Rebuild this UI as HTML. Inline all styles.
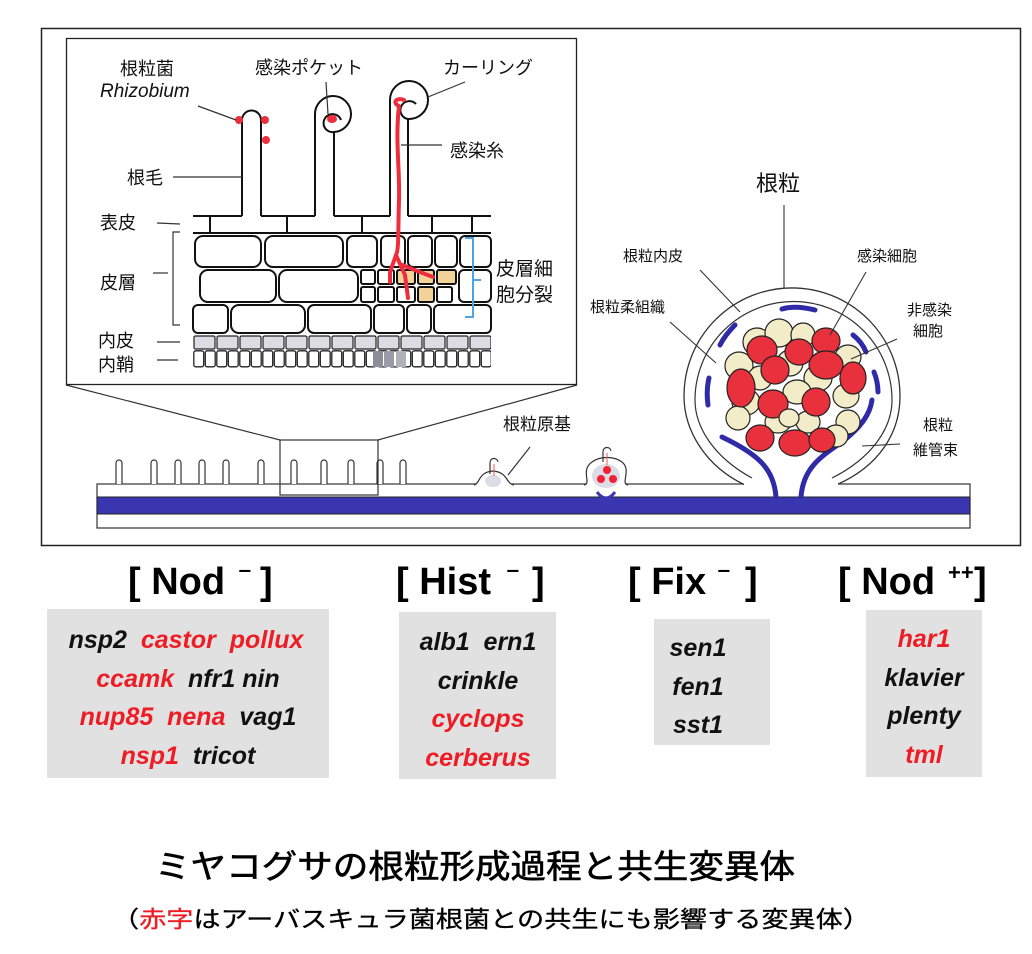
<!DOCTYPE html>
<html><head><meta charset="utf-8"><style>
html,body{margin:0;padding:0;background:#fff;}
svg{display:block;}
.jp{font-family:"Liberation Sans","Noto Sans CJK JP",sans-serif;}
.g{font-family:"Liberation Sans",sans-serif;font-weight:bold;font-style:italic;font-size:25px;text-anchor:middle;}
.r{fill:#ee1c24;}
</style></head><body>
<svg width="1032" height="954" viewBox="0 0 1032 954" xmlns="http://www.w3.org/2000/svg">
<defs>
<pattern id="peri" x="193" y="350" width="11.5" height="18" patternUnits="userSpaceOnUse">
<rect x="0.8" y="0.8" width="9.9" height="16" rx="2" fill="#fff" stroke="#222" stroke-width="1.3"/>
</pattern>
<pattern id="endo" x="193" y="335" width="23" height="15" patternUnits="userSpaceOnUse">
<rect x="1" y="1" width="21" height="13" rx="1.5" fill="#dcdce2" stroke="#222" stroke-width="1.2"/>
</pattern>
</defs>
<rect width="1032" height="954" fill="#fff"/>
<rect x="41.5" y="28.5" width="979" height="517" fill="#fff" stroke="#222" stroke-width="1.5"/>

<rect x="97" y="484" width="873" height="44" fill="#fff" stroke="#333" stroke-width="1.2"/>
<rect x="97" y="497" width="873" height="17" fill="#3a36b0" stroke="#222" stroke-width="1"/>
<g fill="#fff" stroke="#333" stroke-width="1.2">
<path d="M116,484 V463 a3,3 0 0 1 6,0 V484"/>
<path d="M151,484 V463 a3,3 0 0 1 6,0 V484"/>
<path d="M175,484 V463 a3,3 0 0 1 6,0 V484"/>
<path d="M199,484 V463 a3,3 0 0 1 6,0 V484"/>
<path d="M223,484 V463 a3,3 0 0 1 6,0 V484"/>
<path d="M258,484 V463 a3,3 0 0 1 6,0 V484"/>
<path d="M291,484 V463 a3,3 0 0 1 6,0 V484"/>
<path d="M321,484 V463 a3,3 0 0 1 6,0 V484"/>
<path d="M348,484 V463 a3,3 0 0 1 6,0 V484"/>
<path d="M377,484 V463 a3,3 0 0 1 6,0 V484"/>
<path d="M400,484 V463 a3,3 0 0 1 6,0 V484"/>
</g>
<rect x="280" y="440" width="98" height="55" fill="none" stroke="#333" stroke-width="1.2"/>
<line x1="66" y1="385" x2="280" y2="440" stroke="#333" stroke-width="1.2"/>
<line x1="577" y1="385" x2="378" y2="440" stroke="#333" stroke-width="1.2"/>

<path d="M474,485 C480,484 478,472 493,471 C508,472 506,484 514,485" fill="#fff" stroke="#333" stroke-width="1.2"/>
<ellipse cx="493" cy="481" rx="8" ry="6" fill="#dcdce6"/>
<path d="M490,474 V463 a4,4 0 0 1 8,-1" fill="none" stroke="#333" stroke-width="1.2"/>
<line x1="494" y1="476" x2="494" y2="464" stroke="#ee5555" stroke-width="1"/>
<line x1="508" y1="475" x2="530" y2="447" stroke="#333" stroke-width="1.2"/>
<path d="M584,485 C592,484 580,470 592,462 C600,456 614,456 622,462 C632,470 620,484 628,485" fill="#fff" stroke="#333" stroke-width="1.2"/>
<ellipse cx="606" cy="476" rx="14" ry="12" fill="#dcdce6"/>
<path d="M603,462 V452 a4,4 0 0 1 8,-1" fill="none" stroke="#333" stroke-width="1.2"/>
<line x1="607" y1="465" x2="607" y2="453" stroke="#ee5555" stroke-width="1"/>
<circle cx="607" cy="470" r="4" fill="#ee2233"/><circle cx="601" cy="479" r="4" fill="#ee2233"/><circle cx="613" cy="479" r="4" fill="#ee2233"/>
<path d="M597,492 Q606,504 615,492" fill="none" stroke="#3a36b0" stroke-width="3"/>

<path d="M745,485 C705,466 684,430 684,396 A108,108 0 1 1 900,396 C900,432 880,466 836,485" fill="#fff" stroke="#333" stroke-width="1.3"/>
<path d="M752,478 C715,458 695,428 695,400 A97,97 0 1 1 892,400 C892,428 872,458 832,478" fill="none" stroke="#333" stroke-width="1.2"/>
<rect x="744" y="483" width="94" height="3" fill="#fff"/>
<g fill="none" stroke="#2e2aa8" stroke-width="5" stroke-linecap="round">
<path d="M776,497 C774,470 760,455 722,437"/>
<path d="M801,497 C803,470 818,458 842,442 C860,428 870,415 872,400"/>
<path d="M782,309 Q795,305 815,310"/>
<path d="M735,325 Q725,335 720,345"/>
<path d="M709,378 Q706,390 708,405"/>
<path d="M853,335 Q862,342 866,352"/>
<path d="M874,372 Q878,382 878,392"/>
</g>
<g stroke="#222" stroke-width="1.2">
<ellipse cx="757" cy="342" rx="14" ry="14" fill="#f3ecc8"/>
<ellipse cx="779" cy="333" rx="14" ry="14" fill="#f3ecc8"/>
<ellipse cx="803" cy="335" rx="12" ry="12" fill="#f3ecc8"/>
<ellipse cx="739" cy="366" rx="14" ry="14" fill="#f3ecc8"/>
<ellipse cx="848" cy="357" rx="13" ry="12" fill="#f3ecc8"/>
<ellipse cx="790" cy="363" rx="13" ry="13" fill="#f3ecc8"/>
<ellipse cx="818" cy="378" rx="14" ry="13" fill="#f3ecc8"/>
<ellipse cx="760" cy="378" rx="12" ry="12" fill="#f3ecc8"/>
<ellipse cx="746" cy="402" rx="14" ry="13" fill="#f3ecc8"/>
<ellipse cx="797" cy="392" rx="14" ry="12" fill="#f3ecc8"/>
<ellipse cx="846" cy="396" rx="13" ry="12" fill="#f3ecc8"/>
<ellipse cx="848" cy="422" rx="12" ry="12" fill="#f3ecc8"/>
<ellipse cx="738" cy="418" rx="12" ry="12" fill="#f3ecc8"/>
<ellipse cx="778" cy="422" rx="13" ry="11" fill="#f3ecc8"/>
<ellipse cx="808" cy="422" rx="12" ry="11" fill="#f3ecc8"/>
<ellipse cx="836" cy="436" rx="12" ry="11" fill="#f3ecc8"/>
<ellipse cx="762" cy="350" rx="15" ry="14" fill="#e8313d"/>
<ellipse cx="826" cy="341" rx="14" ry="13" fill="#e8313d"/>
<ellipse cx="799" cy="352" rx="14" ry="13" fill="#e8313d"/>
<ellipse cx="775" cy="370" rx="14" ry="14" fill="#e8313d"/>
<ellipse cx="826" cy="365" rx="17" ry="14" fill="#e8313d"/>
<ellipse cx="741" cy="388" rx="14" ry="19" fill="#e8313d"/>
<ellipse cx="853" cy="378" rx="13" ry="16" fill="#e8313d"/>
<ellipse cx="816" cy="402" rx="14" ry="14" fill="#e8313d"/>
<ellipse cx="773" cy="404" rx="15" ry="14" fill="#e8313d"/>
<ellipse cx="760" cy="438" rx="14" ry="13" fill="#e8313d"/>
<ellipse cx="795" cy="443" rx="16" ry="13" fill="#e8313d"/>
<ellipse cx="822" cy="440" rx="13" ry="12" fill="#e8313d"/>
<ellipse cx="789" cy="418" rx="10" ry="9" fill="#f3ecc8"/>
</g>
<g stroke="#333" stroke-width="1.1">
<line x1="784" y1="205" x2="784" y2="288"/>
<line x1="700" y1="270" x2="740" y2="312"/>
<line x1="670" y1="322" x2="716" y2="363"/>
<line x1="866" y1="272" x2="830" y2="335"/>
<line x1="897" y1="339" x2="851" y2="359"/>
<line x1="900" y1="444" x2="862" y2="446"/>
</g>
<g class="jp" font-size="15" fill="#111">
<text x="756" y="191" font-size="22">根粒</text>
<text x="623" y="261">根粒内皮</text>
<text x="590" y="312">根粒柔組織</text>
<text x="857" y="261">感染細胞</text>
<text x="907" y="315">非感染</text>
<text x="913" y="336">細胞</text>
<text x="923" y="430">根粒</text>
<text x="913" y="455">維管束</text>
<text x="503" y="430" font-size="17">根粒原基</text>
</g>

<rect x="66.5" y="38.5" width="510" height="346" fill="#fff" stroke="#222" stroke-width="1.3"/>
<g fill="none" stroke="#111" stroke-width="2">
<path d="M242,216 V120 a9.5,9.5 0 0 1 19,0 V216"/>
<path d="M315,216 V114 A18,18 0 1 1 334,132 V216"/>
<path d="M390,216 V100 A19,19 0 1 1 408,119 V216"/>
<path d="M334,132 A9,9 0 1 1 341,120"/>
<path d="M408,119 A9,9 0 1 1 416,104"/>
</g>
<g fill="#fff" stroke="#111" stroke-width="2">
<path d="M193,216 H242 M261,216 H315 M334,216 H390 M408,216 H491"/>
<line x1="193" y1="233" x2="491" y2="233"/>
<line x1="210" y1="216" x2="210" y2="233"/><line x1="287" y1="216" x2="287" y2="233"/><line x1="362" y1="216" x2="362" y2="233"/><line x1="432" y1="216" x2="432" y2="233"/><line x1="472" y1="216" x2="472" y2="233"/>
<rect x="195" y="236" width="66" height="31" rx="8"/>
<rect x="265" y="236" width="78" height="31" rx="8"/>
<rect x="347" y="236" width="30" height="31" rx="6"/>
<rect x="381" y="236" width="24" height="31" rx="5"/>
<rect x="408" y="236" width="24" height="31" rx="5"/>
<rect x="435" y="236" width="22" height="31" rx="5"/>
<rect x="460" y="236" width="31" height="31" rx="5"/>
<rect x="200" y="270" width="76" height="32" rx="8"/>
<rect x="279" y="270" width="79" height="32" rx="8"/>
<rect x="361" y="270" width="14" height="14" rx="2"/>
<rect x="361" y="287" width="14" height="15" rx="2"/>
<rect x="378" y="270" width="16" height="14" rx="2"/>
<rect x="378" y="287" width="16" height="15" rx="2"/>
<rect x="397" y="270" width="18" height="14" rx="2" fill="#f2d49a"/>
<rect x="397" y="287" width="18" height="15" rx="2"/>
<rect x="418" y="270" width="16" height="14" rx="2" fill="#f2d49a"/>
<rect x="418" y="287" width="16" height="15" rx="2" fill="#f2d49a"/>
<rect x="437" y="270" width="19" height="14" rx="2" fill="#f2d49a"/>
<rect x="437" y="287" width="15" height="15" rx="2"/>
<rect x="459" y="270" width="32" height="32" rx="5"/>
<rect x="193" y="305" width="35" height="28" rx="5"/>
<rect x="231" y="305" width="74" height="28" rx="8"/>
<rect x="308" y="305" width="63" height="28" rx="6"/>
<rect x="374" y="305" width="30" height="28" rx="5"/>
<rect x="407" y="305" width="24" height="28" rx="5"/>
<rect x="434" y="305" width="57" height="28" rx="5"/>
</g>
<rect x="193" y="335" width="298" height="15" fill="url(#endo)"/>
<rect x="193" y="350" width="298" height="18" fill="url(#peri)"/>
<rect x="373" y="351" width="10" height="16" fill="#8d8d9a"/><rect x="384" y="351" width="10" height="16" fill="#9a9aa6"/><rect x="396" y="351" width="10" height="16" fill="#b0b0bb"/>
<path d="M404,100 C396,97 392,103 399,106 C395,140 400,170 399,200 C398,230 399,250 396,255 L390,272 L390,282 M396,255 L405,275 L408,298 M402,265 L425,274 L433,277" fill="none" stroke="#ee2e3c" stroke-width="4" stroke-linecap="round" stroke-linejoin="round"/>
<circle cx="239" cy="120" r="4" fill="#ee2e3c"/><circle cx="265" cy="120" r="4" fill="#ee2e3c"/><circle cx="266" cy="140" r="4" fill="#ee2e3c"/>
<ellipse cx="332" cy="119" rx="5" ry="4" fill="#ee2e3c"/>
<g stroke="#333" stroke-width="1.2" fill="none">
<line x1="198" y1="106" x2="236" y2="120"/>
<line x1="326" y1="82" x2="328" y2="114"/>
<line x1="465" y1="82" x2="428" y2="97"/>
<line x1="401" y1="145" x2="442" y2="145"/>
<line x1="173" y1="177" x2="242" y2="177"/>
<line x1="157" y1="223" x2="180" y2="224"/>
<path d="M180,232 H173 V325 H180"/>
<line x1="153" y1="273" x2="168" y2="273"/>
<line x1="157" y1="342" x2="180" y2="342"/>
<line x1="157" y1="360" x2="178" y2="360"/>
<path d="M465,238 H473 V317 H465 M473,280 H481" stroke="#4fa3e0" stroke-width="2"/>
</g>
<g class="jp" font-size="18" fill="#111">
<text x="120" y="75">根粒菌</text>
<text x="100" y="97" font-style="italic" font-size="19">Rhizobium</text>
<text x="255" y="74">感染ポケット</text>
<text x="443" y="74">カーリング</text>
<text x="450" y="157">感染糸</text>
<text x="127" y="184">根毛</text>
<text x="100" y="229">表皮</text>
<text x="100" y="289">皮層</text>
<text x="98" y="347">内皮</text>
<text x="98" y="371">内鞘</text>
<text x="496" y="275" font-size="19">皮層細</text>
<text x="496" y="301" font-size="19">胞分裂</text>
</g>

<g font-family="'Liberation Sans',sans-serif" font-weight="bold" font-size="38" fill="#000">
<text x="128" y="594">[ Nod</text><text x="238" y="584" font-size="26">⁻</text><text x="260" y="594">]</text>
<text x="396" y="594">[ Hist</text><text x="506" y="584" font-size="26">⁻</text><text x="532" y="594">]</text>
<text x="628" y="594">[ Fix</text><text x="717" y="584" font-size="26">⁻</text><text x="745" y="594">]</text>
<text x="838" y="594">[ Nod</text><text x="948" y="580" font-size="22">++</text><text x="974" y="594">]</text>
</g>
<rect x="47" y="609" width="282" height="169" fill="#e1e1e1"/>
<rect x="399" y="612" width="157" height="167" fill="#e1e1e1"/>
<rect x="654" y="619" width="116" height="126" fill="#e1e1e1"/>
<rect x="866" y="610" width="116" height="167" fill="#e1e1e1"/>
<g class="g" fill="#111">
<text x="186" y="648">nsp2<tspan class="r">&#160;&#160;castor&#160;&#160;pollux</tspan></text>
<text x="188" y="687"><tspan class="r">ccamk</tspan>&#160;&#160;nfr1 nin</text>
<text x="188" y="725"><tspan class="r">nup85&#160;&#160;nena</tspan>&#160;&#160;vag1</text>
<text x="188" y="764"><tspan class="r">nsp1</tspan>&#160;&#160;tricot</text>
<text x="478" y="650">alb1&#160;&#160;ern1</text>
<text x="478" y="689">crinkle</text>
<text x="478" y="727" class="r">cyclops</text>
<text x="478" y="766" class="r">cerberus</text>
<text x="698" y="656">sen1</text>
<text x="698" y="695">fen1</text>
<text x="698" y="733">sst1</text>
<text x="924" y="647" class="r">har1</text>
<text x="924" y="686">klavier</text>
<text x="924" y="724">plenty</text>
<text x="924" y="763" class="r">tml</text>
</g>

<text class="jp" x="155" y="878" font-size="33" textLength="640" lengthAdjust="spacingAndGlyphs" fill="#000" stroke="#000" stroke-width="0.6">ミヤコグサの根粒形成過程と共生変異体</text>
<text class="jp" x="112" y="927" font-size="23" textLength="758" lengthAdjust="spacingAndGlyphs" fill="#000" stroke="#000" stroke-width="0.3">（<tspan fill="#ee1c24" stroke="#ee1c24">赤字</tspan>はアーバスキュラ菌根菌との共生にも影響する変異体）</text>
</svg>
</body></html>
